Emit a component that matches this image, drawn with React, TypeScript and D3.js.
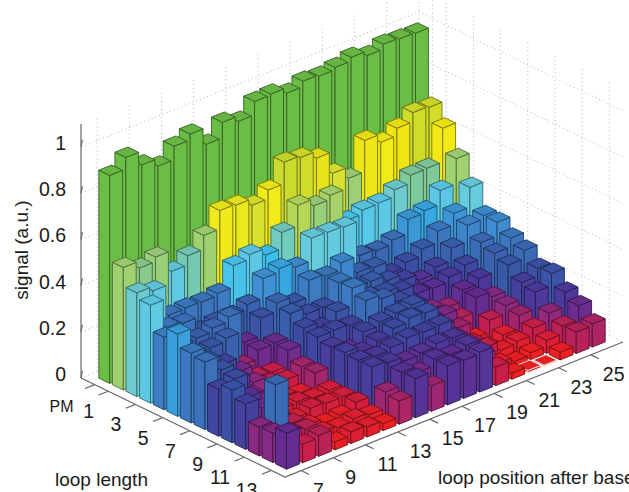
import * as d3 from 'd3';

// signal per loop position (7..26), one list per loop length
const pm = [.90, .95, .89, .857, .915, .94, .868, .935, .912, .97, .974, .95, .974, .968, .978, .994, .974, .995, .99, .987];
const loop1 = [.53, .50, .52, .43, .47, .53, .61, .605, .577, .615, .708, .70, .67, .576, .527, .663, .627, .66, .70, .695];
const loop2 = [.449, .43, .297, .30, .297, .307, .40, .42, .39, .46, .55, .52, .537, .40, .417, .42, .45, .485, .487, .633];
const loop3 = [.424, .30, .29, .23, .24, .24, .26, .345, .36, .338, .436, .433, .428, .277, .27, .288, .35, .36, .42, .53];
const loop4 = [.314, .25, .254, .27, .29, .153, .23, .267, .238, .31, .30, .33, .26, .254, .20, .22, .25, .30, .349, .434];
const loop5 = [.356, .24, .24, .255, .11, .147, .15, .25, .22, .22, .30, .25, .25, .225, .20, .172, .20, .255, .326, .34];
const loop6 = [.302, .24, .20, .14, .087, .08, .147, .215, .19, .23, .305, .24, .23, .21, .17, .165, .186, .21, .28, .34];
const loop7 = [.292, .23, .16, .12, .09, .075, .105, .205, .207, .20, .28, .26, .22, .177, .13, .11, .158, .18, .262, .30];
const loop8 = [.203, .22, .12, .08, .06, .046, .106, .19, .15, .20, .216, .226, .233, .15, .134, .093, .155, .13, .24, .276];
const loop9 = [.228, .17, .12, .06, .065, .054, .06, .195, .17, .19, .216, .233, .227, .14, .107, .035, .085, .12, .193, .226];
const loop10 = [.196, .15, .08, .05, .066, .06, .06, .19, .18, .19, .203, .20, .203, .12, .07, .025, .05, .107, .18, .233];
const loop11 = [.125, .28, .086, .05, .03, .037, .065, .19, .18, .16, .167, .18, .176, .12, .08, .04, .05, .08, .117, .18];
const loop12 = [.127, .10, .09, .05, .04, .05, .04, .11, .168, .14, .17, .16, .173, .10, .04, .02, .03, .056, .09, .15];
const loop13 = [.156, .08, .09, .034, .05, .043, .03, .10, .17, .11, .17, .165, .172, .08, .026, .01, .005, .033, .092, .10];
const signal = [pm, loop1, loop2, loop3, loop4, loop5, loop6, loop7, loop8, loop9, loop10, loop11, loop12, loop13];

const rowTicks = [1, 2, 4, 6, 8, 10, 12, 14];
const rowLabels = ['PM', '1', '3', '5', '7', '9', '11', '13'];
const colTicks = [1, 3, 5, 7, 9, 11, 13, 15, 17, 19];
const colLabels = ['7', '9', '11', '13', '15', '17', '19', '21', '23', '25'];
const zTicks = [0, 0.2, 0.4, 0.6, 0.8, 1];

const colorStops = [0, .03, .08, .12, .155, .18, .21, .24, .28, .345, .375, .42, .445, .47, .50, .54, .58, .62, .66, .70, .74, .80, .86];
const colorRange = ['#ee2024', '#ee2024', '#c91f4a', '#8e2a80', '#662d91', '#4c399b', '#3f48a2', '#3a58a8', '#3b6cb7', '#3f8fd2', '#2fbcf0', '#5cc8e6', '#6ccdd6', '#75c9b0', '#88ca8a', '#a7d368', '#dde22a', '#f4ec16', '#f0e614', '#cfdc2a', '#bdd638', '#8cc63f', '#6abd45'];

// oblique projection of the MATLAB axes box
const rowX = d3.scaleLinear().domain([0, 15]).range([0, 204]);
const rowY = d3.scaleLinear().domain([0, 15]).range([0, 99]);
const colX = d3.scaleLinear().domain([0, 21]).range([0, 338]);
const colY = d3.scaleLinear().domain([0, 21]).range([0, -135]);
const zY = d3.scaleLinear().domain([0, 1]).range([0, -231]);
const originX = 81;
const originY = 378;

const project = (u: number, v: number, z: number): [number, number] => [
  originX + rowX(u) + colX(v),
  originY + rowY(u) + colY(v) + zY(z),
];

const color = d3.scaleLinear<string>().domain(colorStops).range(colorRange).interpolate(d3.interpolateRgb).clamp(true);
const line = d3.line();
const halfWidth = 0.4;
const gridColor = '#b4b4b4';
const axisColor = '#666666';
const fontFamily = '"Liberation Sans", Arial, sans-serif';

function Bar({ u, v, z }: { u: number; v: number; z: number }) {
  const a0 = project(u - halfWidth, v - halfWidth, 0);
  const b0 = project(u + halfWidth, v - halfWidth, 0);
  const c0 = project(u + halfWidth, v + halfWidth, 0);
  const a1 = project(u - halfWidth, v - halfWidth, z);
  const b1 = project(u + halfWidth, v - halfWidth, z);
  const c1 = project(u + halfWidth, v + halfWidth, z);
  const d1 = project(u - halfWidth, v + halfWidth, z);
  const base = color(z);
  // the flattest bars show a pale outline in the original
  const edge = z < 0.012 ? '#efe9e2' : d3.color(base)!.darker(1.9).formatHex();
  const top = d3.color(base)!.darker(0.12).formatHex();
  const common = { stroke: edge, strokeWidth: 0.9, strokeLinejoin: 'round' as const };
  return (
    <g>
      <path d={line([a0, b0, b1, a1])! + 'Z'} fill={base} {...common} />
      <path d={line([b0, c0, c1, b1])! + 'Z'} fill={base} {...common} />
      <path d={line([a1, b1, c1, d1])! + 'Z'} fill={top} {...common} />
    </g>
  );
}

export default function App() {
  const bars = signal
    .flatMap((row, i) => row.map((z, j) => ({ u: i + 1, v: j + 1, z })))
    .sort((a, b) => a.u - b.u || b.v - a.v);
  const uMax = 15;
  const vMax = 21;
  const zTop = 1.1;

  return (
    <svg width={629} height={492} style={{ position: 'absolute', left: 0, top: 0, display: 'block' }} fontFamily={fontFamily}>
      <rect width={629} height={492} fill="#fff" />

      {/* back walls */}
      <g stroke={gridColor} strokeWidth={1} strokeDasharray="1 3" fill="none">
        {colTicks.map((t) => (
          <path key={t} d={line([project(0, t, 0), project(0, t, zTop)])!} />
        ))}
        {rowTicks.map((t) => (
          <path key={t} d={line([project(t, vMax, 0), project(t, vMax, zTop)])!} />
        ))}
        <path d={line([project(0, vMax, 0), project(0, vMax, zTop)])!} />
        {zTicks.map((t) => (
          <path key={t} d={line([project(0, 0, t), project(0, vMax, t), project(uMax, vMax, t)])!} />
        ))}
      </g>

      {/* axes */}
      <g stroke={axisColor} strokeWidth={1.2} fill="none">
        <path d={line([project(0, 0, 0), project(0, 0, zTop)])!} />
        <path d={line([project(0, 0, 0), project(uMax, 0, 0), project(uMax, vMax, 0)])!} />
        {zTicks.map((t) => (
          <path key={t} d={line([project(0, 0, t), project(-0.55, 0.55, t)])!} />
        ))}
        {rowTicks.map((t) => (
          <path key={t} d={line([project(t, 0, 0), project(t, -0.6, 0)])!} />
        ))}
        {colTicks.map((t) => (
          <path key={t} d={line([project(uMax, t, 0), project(uMax + 0.6, t, 0)])!} />
        ))}
      </g>

      {bars.map((b) => (
        <Bar key={`${b.u}-${b.v}`} {...b} />
      ))}

      <g fill="#1a1a1a" fontSize={19.5}>
        {zTicks.map((t) => (
          <text key={t} x={66} y={originY + zY(t) + 3} textAnchor="end">
            {t}
          </text>
        ))}
        {rowTicks.map((t, i) =>
          i === 0 ? (
            <text key={t} x={project(t, 0, 0)[0] - 21} y={project(t, 0, 0)[1] + 27} fontSize={16} textAnchor="end">
              {rowLabels[i]}
            </text>
          ) : (
            <text key={t} x={project(t, 0, 0)[0] - 14} y={project(t, 0, 0)[1] + 27} textAnchor="end">
              {rowLabels[i]}
            </text>
          ),
        )}
        {colTicks.map((t, i) => (
          <text key={t} x={project(uMax, t, 0)[0] + 12} y={project(uMax, t, 0)[1] + 26}>
            {colLabels[i]}
          </text>
        ))}
        <text x={55} y={486} fontSize={19}>loop length</text>
        <text x={438} y={484} fontSize={19}>loop position after base</text>
        <text transform="translate(28,250) rotate(-90)" textAnchor="middle" fontSize={19}>signal (a.u.)</text>
      </g>
    </svg>
  );
}
